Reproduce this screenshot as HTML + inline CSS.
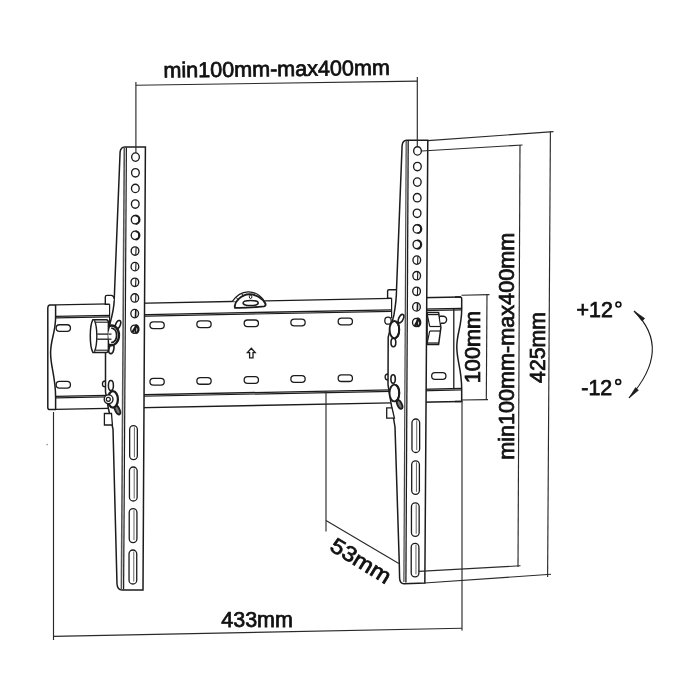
<!DOCTYPE html>
<html><head><meta charset="utf-8"><style>
html,body{margin:0;padding:0;background:#fff;width:700px;height:700px;overflow:hidden;font-family:"Liberation Sans",sans-serif;}
svg{display:block;will-change:transform}
</style></head><body>
<svg width="700" height="700" viewBox="0 0 700 700">
<rect width="700" height="700" fill="#fff"/>
<line x1="135.9" y1="85.3" x2="417.3" y2="81.1" stroke="#2a2a2a" stroke-width="1.15"/>
<line x1="53.5" y1="636.4" x2="462.0" y2="628.3" stroke="#2a2a2a" stroke-width="1.15"/>
<line x1="53.5" y1="412.0" x2="53.5" y2="640.0" stroke="#2a2a2a" stroke-width="1.15"/>
<line x1="462.0" y1="401.0" x2="462.0" y2="630.5" stroke="#2a2a2a" stroke-width="1.15"/>
<line x1="428.0" y1="140.6" x2="553.5" y2="131.6" stroke="#2a2a2a" stroke-width="1.15"/>
<line x1="550.4" y1="131.5" x2="547.6" y2="577.0" stroke="#2a2a2a" stroke-width="1.15"/>
<line x1="424.5" y1="583.0" x2="551.0" y2="574.3" stroke="#2a2a2a" stroke-width="1.15"/>
<line x1="520.0" y1="145.0" x2="518.0" y2="567.0" stroke="#2a2a2a" stroke-width="1.15"/>
<line x1="461.5" y1="295.3" x2="489.5" y2="294.6" stroke="#2a2a2a" stroke-width="1.15"/>
<line x1="487.0" y1="294.6" x2="486.3" y2="400.0" stroke="#2a2a2a" stroke-width="1.15"/>
<line x1="461.5" y1="400.0" x2="488.0" y2="399.6" stroke="#2a2a2a" stroke-width="1.15"/>
<line x1="326.0" y1="520.5" x2="398.8" y2="563.6" stroke="#2a2a2a" stroke-width="1.15"/>
<polygon points="56.0,304.9 461.0,297.0 461.0,401.5 56.0,409.4" fill="#fff" stroke="none"/>
<line x1="55.8" y1="304.9" x2="109.6" y2="303.9" stroke="#1c1c1c" stroke-width="1.4"/>
<line x1="135.0" y1="303.4" x2="391.6" y2="298.4" stroke="#1c1c1c" stroke-width="1.4"/>
<line x1="420.0" y1="297.8" x2="461.0" y2="297.0" stroke="#1c1c1c" stroke-width="1.4"/>
<line x1="55.8" y1="316.3" x2="109.6" y2="315.3" stroke="#1c1c1c" stroke-width="1.3"/>
<line x1="135.0" y1="314.8" x2="391.6" y2="309.8" stroke="#1c1c1c" stroke-width="1.3"/>
<line x1="420.0" y1="309.2" x2="461.0" y2="308.4" stroke="#1c1c1c" stroke-width="1.3"/>
<line x1="55.8" y1="317.8" x2="109.6" y2="316.8" stroke="#1c1c1c" stroke-width="1.2"/>
<line x1="135.0" y1="316.3" x2="391.6" y2="311.3" stroke="#1c1c1c" stroke-width="1.2"/>
<line x1="420.0" y1="310.7" x2="461.0" y2="309.9" stroke="#1c1c1c" stroke-width="1.2"/>
<line x1="55.8" y1="396.4" x2="391.6" y2="389.9" stroke="#1c1c1c" stroke-width="1.3"/>
<line x1="420.0" y1="389.3" x2="461.0" y2="388.5" stroke="#1c1c1c" stroke-width="1.3"/>
<line x1="55.8" y1="397.9" x2="391.6" y2="391.4" stroke="#1c1c1c" stroke-width="1.2"/>
<line x1="420.0" y1="390.8" x2="461.0" y2="390.0" stroke="#1c1c1c" stroke-width="1.2"/>
<line x1="55.8" y1="409.4" x2="391.6" y2="402.9" stroke="#1c1c1c" stroke-width="1.4"/>
<line x1="420.0" y1="402.3" x2="461.0" y2="401.5" stroke="#1c1c1c" stroke-width="1.4"/>
<path d="M56,304.9 L49.5,305.0 Q47.8,305.6 47.8,308.1 L47.8,407.6 Q47.8,409.6 50,409.5 L56,409.4" fill="#fff" stroke="#1c1c1c" stroke-width="1.5" />
<path d="M55.6,304.9 L55.6,316.9 C55.6,333 50.6,339 50.6,353 C50.6,367 55.6,377 55.6,397.0 L55.6,409.4" fill="none" stroke="#1c1c1c" stroke-width="1.5" />
<path d="M455,297.1 L460,297.0 Q461.7,297.0 461.7,299.0 L461.7,309.0 C461.7,327 456.8,333 456.8,347 C456.8,361 461.7,369 461.7,389.1 L461.7,401.5 L455,401.6" fill="none" stroke="#1c1c1c" stroke-width="1.5" />
<line x1="453.8" y1="309.1" x2="453.8" y2="389.2" stroke="#1c1c1c" stroke-width="1.3"/>
<line x1="326.0" y1="391.3" x2="326.0" y2="531.5" stroke="#2a2a2a" stroke-width="1.15"/>
<rect x="149.95" y="321.85" width="14.30" height="6.70" rx="3.35" ry="3.35" fill="#fff" stroke="#1c1c1c" stroke-width="1.3" transform="rotate(0 157.10 325.20)"/>
<rect x="149.95" y="378.45" width="14.30" height="6.70" rx="3.35" ry="3.35" fill="#fff" stroke="#1c1c1c" stroke-width="1.3" transform="rotate(0 157.10 381.80)"/>
<rect x="196.85" y="320.93" width="14.30" height="6.70" rx="3.35" ry="3.35" fill="#fff" stroke="#1c1c1c" stroke-width="1.3" transform="rotate(0 204.00 324.28)"/>
<rect x="196.85" y="377.53" width="14.30" height="6.70" rx="3.35" ry="3.35" fill="#fff" stroke="#1c1c1c" stroke-width="1.3" transform="rotate(0 204.00 380.88)"/>
<rect x="244.15" y="320.01" width="14.30" height="6.70" rx="3.35" ry="3.35" fill="#fff" stroke="#1c1c1c" stroke-width="1.3" transform="rotate(0 251.30 323.36)"/>
<rect x="244.15" y="376.61" width="14.30" height="6.70" rx="3.35" ry="3.35" fill="#fff" stroke="#1c1c1c" stroke-width="1.3" transform="rotate(0 251.30 379.96)"/>
<rect x="290.85" y="319.10" width="14.30" height="6.70" rx="3.35" ry="3.35" fill="#fff" stroke="#1c1c1c" stroke-width="1.3" transform="rotate(0 298.00 322.45)"/>
<rect x="290.85" y="375.70" width="14.30" height="6.70" rx="3.35" ry="3.35" fill="#fff" stroke="#1c1c1c" stroke-width="1.3" transform="rotate(0 298.00 379.05)"/>
<rect x="338.15" y="318.18" width="14.30" height="6.70" rx="3.35" ry="3.35" fill="#fff" stroke="#1c1c1c" stroke-width="1.3" transform="rotate(0 345.30 321.53)"/>
<rect x="338.15" y="374.78" width="14.30" height="6.70" rx="3.35" ry="3.35" fill="#fff" stroke="#1c1c1c" stroke-width="1.3" transform="rotate(0 345.30 378.13)"/>
<rect x="56.15" y="324.75" width="14.30" height="6.70" rx="3.35" ry="3.35" fill="#fff" stroke="#1c1c1c" stroke-width="1.3" transform="rotate(0 63.30 328.10)"/>
<rect x="56.15" y="381.35" width="14.30" height="6.70" rx="3.35" ry="3.35" fill="#fff" stroke="#1c1c1c" stroke-width="1.3" transform="rotate(0 63.30 384.70)"/>
<rect x="431.65" y="372.65" width="14.30" height="6.70" rx="3.35" ry="3.35" fill="#fff" stroke="#1c1c1c" stroke-width="1.3" transform="rotate(0 438.80 376.00)"/>
<path d="M251.3,348.2 L255.2,352.6 L253.0,352.6 L253.0,357.8 L249.6,357.8 L249.6,352.6 L247.4,352.6 Z" fill="#fff" stroke="#1c1c1c" stroke-width="1.3" />
<path d="M232.4,301.3 C236,296 242,292 248,291.8 C256,291.6 263,297 265.9,304.5" fill="#fff" stroke="#1c1c1c" stroke-width="1.2" />
<path d="M235,307.8 C234.3,305 235.5,302 238,299.6 C241.5,296 245.5,294.3 249.5,294.3 C256,294.3 262.5,298.5 265.3,303.5 C265.8,305 265.5,306.2 264,306.4 C255,307.3 244,308.2 235,307.8 Z" fill="#fff" stroke="#1c1c1c" stroke-width="1.9" />
<path d="M236.3,297.4 L238.4,300.3 M241.8,293.6 L243.4,296.4" fill="none" stroke="#1c1c1c" stroke-width="1.0" />
<ellipse cx="250.6" cy="303" rx="7.6" ry="2.6" fill="#fff" stroke="#1c1c1c" stroke-width="1.5"/>
<ellipse cx="250.6" cy="296.8" rx="1.3" ry="1.7" fill="none" stroke="#1c1c1c" stroke-width="1"/>
<path d="M120.1,151.8 Q120.8,147 124.7,146.9 L145.4,146.9 L143.0,590 L122,590 Q117.5,590 117,584 L113,429 L108.4,408.5 L105.5,392 L105.5,352 L109.3,326 C111.5,318 114,310 114.2,300 L120.1,151.8 Z" fill="#fff" stroke="#1c1c1c" stroke-width="1.5" />
<line x1="124.3" y1="147.5" x2="121.4" y2="589.5" stroke="#555" stroke-width="1.6"/>
<line x1="126.4" y1="147.5" x2="123.6" y2="589.5" stroke="#1c1c1c" stroke-width="1.2"/>
<path d="M402.1,145.4 Q402.8,140.5 406.5,140.3 L427.8,140.3 L424.85,583 L404,583.8 Q399.8,583.5 399.6,578 L399.3,564 L395,427 L391.2,404 L388,384.7 L388.2,337 L393.9,315 C395.5,306 396.5,300 396.5,290 L402.1,145.4 Z" fill="#fff" stroke="#1c1c1c" stroke-width="1.5" />
<line x1="408.2" y1="140.8" x2="405.9" y2="582.5" stroke="#1c1c1c" stroke-width="1.3"/>
<line x1="406.2" y1="140.8" x2="403.9" y2="582.0" stroke="#444" stroke-width="1.2"/>
<ellipse cx="135.50" cy="157.10" rx="3.85" ry="4.2" fill="#fff" stroke="#1c1c1c" stroke-width="1.35"/>
<ellipse cx="135.42" cy="172.75" rx="3.85" ry="4.2" fill="#fff" stroke="#1c1c1c" stroke-width="1.35"/>
<ellipse cx="135.34" cy="188.40" rx="3.85" ry="4.2" fill="#fff" stroke="#1c1c1c" stroke-width="1.35"/>
<ellipse cx="135.26" cy="204.05" rx="3.85" ry="4.2" fill="#fff" stroke="#1c1c1c" stroke-width="1.35"/>
<ellipse cx="135.17" cy="219.70" rx="3.85" ry="4.2" fill="#fff" stroke="#1c1c1c" stroke-width="1.35"/>
<path d="M135.67,215.50 A3.85,4.2 0 0 1 135.67,223.90" fill="none" stroke="#1c1c1c" stroke-width="2.0" />
<ellipse cx="135.09" cy="235.35" rx="3.85" ry="4.2" fill="#fff" stroke="#1c1c1c" stroke-width="1.35"/>
<path d="M135.59,231.15 A3.85,4.2 0 0 1 135.59,239.55" fill="none" stroke="#1c1c1c" stroke-width="2.0" />
<ellipse cx="135.01" cy="251.00" rx="3.85" ry="4.2" fill="#fff" stroke="#1c1c1c" stroke-width="1.35"/>
<line x1="136.1" y1="247.2" x2="135.8" y2="254.8" stroke="#1c1c1c" stroke-width="1.1"/>
<ellipse cx="134.93" cy="266.65" rx="3.85" ry="4.2" fill="#fff" stroke="#1c1c1c" stroke-width="1.35"/>
<line x1="136.0" y1="262.8" x2="135.7" y2="270.4" stroke="#1c1c1c" stroke-width="1.1"/>
<ellipse cx="134.85" cy="282.30" rx="3.85" ry="4.2" fill="#fff" stroke="#1c1c1c" stroke-width="1.35"/>
<line x1="135.9" y1="278.5" x2="135.6" y2="286.1" stroke="#1c1c1c" stroke-width="1.1"/>
<ellipse cx="134.77" cy="297.95" rx="3.85" ry="4.2" fill="#fff" stroke="#1c1c1c" stroke-width="1.35"/>
<line x1="135.9" y1="294.1" x2="135.6" y2="301.8" stroke="#1c1c1c" stroke-width="1.1"/>
<ellipse cx="134.69" cy="313.60" rx="3.85" ry="4.2" fill="#fff" stroke="#1c1c1c" stroke-width="1.35"/>
<line x1="135.8" y1="309.8" x2="135.5" y2="317.4" stroke="#1c1c1c" stroke-width="1.6"/>
<ellipse cx="134.60" cy="329.25" rx="3.85" ry="4.2" fill="#fff" stroke="#1c1c1c" stroke-width="1.35"/>
<line x1="135.7" y1="325.4" x2="135.4" y2="333.1" stroke="#1c1c1c" stroke-width="1.6"/>
<path d="M132.40,332.45 L136.60,325.65" fill="none" stroke="#1c1c1c" stroke-width="2.4" />
<path d="M135.40,325.15 A3.85,4.2 0 0 1 136.10,333.15" fill="none" stroke="#1c1c1c" stroke-width="2.2" />
<ellipse cx="417.50" cy="150.90" rx="3.85" ry="4.2" fill="#fff" stroke="#1c1c1c" stroke-width="1.35"/>
<ellipse cx="417.40" cy="166.50" rx="3.85" ry="4.2" fill="#fff" stroke="#1c1c1c" stroke-width="1.35"/>
<ellipse cx="417.30" cy="182.10" rx="3.85" ry="4.2" fill="#fff" stroke="#1c1c1c" stroke-width="1.35"/>
<ellipse cx="417.20" cy="197.70" rx="3.85" ry="4.2" fill="#fff" stroke="#1c1c1c" stroke-width="1.35"/>
<ellipse cx="417.09" cy="213.30" rx="3.85" ry="4.2" fill="#fff" stroke="#1c1c1c" stroke-width="1.35"/>
<ellipse cx="416.99" cy="228.90" rx="3.85" ry="4.2" fill="#fff" stroke="#1c1c1c" stroke-width="1.35"/>
<path d="M417.49,224.70 A3.85,4.2 0 0 1 417.49,233.10" fill="none" stroke="#1c1c1c" stroke-width="2.0" />
<ellipse cx="416.89" cy="244.50" rx="3.85" ry="4.2" fill="#fff" stroke="#1c1c1c" stroke-width="1.35"/>
<path d="M417.39,240.30 A3.85,4.2 0 0 1 417.39,248.70" fill="none" stroke="#1c1c1c" stroke-width="2.0" />
<ellipse cx="416.79" cy="260.10" rx="3.85" ry="4.2" fill="#fff" stroke="#1c1c1c" stroke-width="1.35"/>
<line x1="417.9" y1="256.3" x2="417.6" y2="263.9" stroke="#1c1c1c" stroke-width="1.1"/>
<ellipse cx="416.69" cy="275.70" rx="3.85" ry="4.2" fill="#fff" stroke="#1c1c1c" stroke-width="1.35"/>
<line x1="417.8" y1="271.9" x2="417.5" y2="279.5" stroke="#1c1c1c" stroke-width="1.1"/>
<ellipse cx="416.59" cy="291.30" rx="3.85" ry="4.2" fill="#fff" stroke="#1c1c1c" stroke-width="1.35"/>
<line x1="417.7" y1="287.5" x2="417.4" y2="295.1" stroke="#1c1c1c" stroke-width="1.1"/>
<ellipse cx="416.49" cy="306.90" rx="3.85" ry="4.2" fill="#fff" stroke="#1c1c1c" stroke-width="1.35"/>
<line x1="417.6" y1="303.1" x2="417.3" y2="310.7" stroke="#1c1c1c" stroke-width="1.6"/>
<ellipse cx="416.38" cy="322.50" rx="3.85" ry="4.2" fill="#fff" stroke="#1c1c1c" stroke-width="1.35"/>
<line x1="417.5" y1="318.7" x2="417.2" y2="326.3" stroke="#1c1c1c" stroke-width="1.6"/>
<path d="M414.88,326.10 L418.58,319.10" fill="none" stroke="#1c1c1c" stroke-width="2.4" />
<path d="M417.18,318.40 A3.85,4.2 0 0 1 417.88,326.40" fill="none" stroke="#1c1c1c" stroke-width="2.2" />
<rect x="129.65" y="425.70" width="7.70" height="34.00" rx="3.85" ry="3.85" fill="#fff" stroke="#1c1c1c" stroke-width="1.3"/>
<line x1="134.40" y1="427.20" x2="134.40" y2="457.20" stroke="#666" stroke-width="1.0"/>
<rect x="129.44" y="467.00" width="7.70" height="34.00" rx="3.85" ry="3.85" fill="#fff" stroke="#1c1c1c" stroke-width="1.3"/>
<line x1="134.19" y1="468.50" x2="134.19" y2="498.50" stroke="#666" stroke-width="1.0"/>
<rect x="129.23" y="508.60" width="7.70" height="34.00" rx="3.85" ry="3.85" fill="#fff" stroke="#1c1c1c" stroke-width="1.3"/>
<line x1="133.98" y1="510.10" x2="133.98" y2="540.10" stroke="#666" stroke-width="1.0"/>
<rect x="129.03" y="550.00" width="7.70" height="34.00" rx="3.85" ry="3.85" fill="#fff" stroke="#1c1c1c" stroke-width="1.3"/>
<line x1="133.78" y1="551.50" x2="133.78" y2="581.50" stroke="#666" stroke-width="1.0"/>
<rect x="411.96" y="419.00" width="7.70" height="33.50" rx="3.85" ry="3.85" fill="#fff" stroke="#1c1c1c" stroke-width="1.3"/>
<line x1="416.71" y1="420.50" x2="416.71" y2="450.00" stroke="#666" stroke-width="1.0"/>
<rect x="411.70" y="460.90" width="7.70" height="33.50" rx="3.85" ry="3.85" fill="#fff" stroke="#1c1c1c" stroke-width="1.3"/>
<line x1="416.45" y1="462.40" x2="416.45" y2="491.90" stroke="#666" stroke-width="1.0"/>
<rect x="411.45" y="502.80" width="7.70" height="33.50" rx="3.85" ry="3.85" fill="#fff" stroke="#1c1c1c" stroke-width="1.3"/>
<line x1="416.20" y1="504.30" x2="416.20" y2="533.80" stroke="#666" stroke-width="1.0"/>
<rect x="411.21" y="543.30" width="7.70" height="33.50" rx="3.85" ry="3.85" fill="#fff" stroke="#1c1c1c" stroke-width="1.3"/>
<line x1="415.96" y1="544.80" x2="415.96" y2="574.30" stroke="#666" stroke-width="1.0"/>
<line x1="135.9" y1="81.9" x2="135.9" y2="152.9" stroke="#2a2a2a" stroke-width="1.15"/>
<line x1="417.3" y1="77.1" x2="417.3" y2="146.8" stroke="#2a2a2a" stroke-width="1.15"/>
<line x1="421.6" y1="151.0" x2="522.5" y2="145.0" stroke="#2a2a2a" stroke-width="1.15"/>
<line x1="418.8" y1="571.4" x2="520.5" y2="565.8" stroke="#2a2a2a" stroke-width="1.15"/>
<path d="M109.6,304.3 L105.3,304.3 L105.3,297 Q105.3,295.4 107,295.4 L111.5,295.4 Q114,296 114.3,299.5" fill="#fff" stroke="#1c1c1c" stroke-width="1.4" />
<line x1="109.6" y1="304.3" x2="109.6" y2="325.0" stroke="#1c1c1c" stroke-width="1.2"/>
<line x1="391.6" y1="298.0" x2="391.6" y2="318.0" stroke="#1c1c1c" stroke-width="1.2"/>
<path d="M391.6,298.3 L387.6,298.3 L387.6,291 Q387.6,289.7 389,289.7 L396.2,289.7" fill="#fff" stroke="#1c1c1c" stroke-width="1.4" />
<path d="M92.9,319.7 L106.3,319.7 Q108.4,319.9 108.4,322.3 L108.4,350 Q108.4,352.4 106.3,352.4 L92.9,352.4 C89.4,346 89.4,326 92.9,319.7 Z" fill="#fff" stroke="#1c1c1c" stroke-width="1.5" />
<path d="M94.5,320.3 C97.6,328 97.6,344 94.5,351.8" fill="none" stroke="#1c1c1c" stroke-width="1.4" />
<line x1="95.5" y1="322.2" x2="108.4" y2="322.2" stroke="#1c1c1c" stroke-width="1.1"/>
<line x1="95.5" y1="350.2" x2="108.4" y2="350.2" stroke="#1c1c1c" stroke-width="1.1"/>
<line x1="97.3" y1="334.1" x2="109.5" y2="334.1" stroke="#1c1c1c" stroke-width="1.3"/>
<line x1="97.3" y1="339.2" x2="109.5" y2="339.2" stroke="#1c1c1c" stroke-width="1.3"/>
<ellipse cx="118.0" cy="324.6" rx="2.3" ry="4.3" transform="rotate(22 118.0 324.6)" fill="#fff" stroke="#1c1c1c" stroke-width="1.6"/>
<ellipse cx="111.4" cy="349.0" rx="2.4" ry="4.7" transform="rotate(12 111.4 349.0)" fill="#fff" stroke="#1c1c1c" stroke-width="1.6"/>
<ellipse cx="113.3" cy="335.2" rx="5.0" ry="9.6" fill="#fff" stroke="none"/>
<path d="M108.8,326.2 C114.5,323.6 119.0,329.0 119.0,335.2 C119.0,341.6 114.5,347.0 108.8,344.6" fill="none" stroke="#1c1c1c" stroke-width="2.3" />
<path d="M111.2,328.0 C115.2,328.6 116.6,332.0 116.6,335.2 C116.6,338.6 115.2,342.0 111.2,342.6" fill="none" stroke="#1c1c1c" stroke-width="1.7" />
<line x1="108.6" y1="334.1" x2="111.5" y2="334.1" stroke="#1c1c1c" stroke-width="1.2"/>
<line x1="108.6" y1="339.2" x2="111.5" y2="339.2" stroke="#1c1c1c" stroke-width="1.2"/>
<ellipse cx="110.9" cy="385.5" rx="2.5" ry="5.0" fill="#fff" stroke="#1c1c1c" stroke-width="1.5"/>
<ellipse cx="117.4" cy="410" rx="2.2" ry="4.8" transform="rotate(-25 117.4 410)" fill="#777" stroke="#1c1c1c" stroke-width="1.8"/>
<ellipse cx="112.9" cy="399.4" rx="5.0" ry="8.2" fill="#fff" stroke="#1c1c1c" stroke-width="2.3"/>
<circle cx="108.6" cy="399.3" r="4.4" fill="#fff" stroke="#1c1c1c" stroke-width="1.4"/>
<circle cx="108.3" cy="399.3" r="2.0" fill="#fff" stroke="#1c1c1c" stroke-width="1.2"/>
<path d="M105.3,381 A2.9,2.9 0 0 0 105.3,386.8" fill="none" stroke="#1c1c1c" stroke-width="1.3" />
<path d="M104.4,413.5 L111.5,413.5 L112.4,425 L104.4,425 Z" fill="#fff" stroke="#1c1c1c" stroke-width="1.3" />
<path d="M427.1,312.4 L438.6,312.4 L440.9,327.5 L438.6,344.5 L427.1,344.5 Z" fill="#fff" stroke="#1c1c1c" stroke-width="1.5" />
<line x1="427.5" y1="314.6" x2="438.9" y2="314.6" stroke="#1c1c1c" stroke-width="1.2"/>
<line x1="427.5" y1="343.0" x2="438.9" y2="343.0" stroke="#1c1c1c" stroke-width="1.2"/>
<line x1="429.7" y1="326.5" x2="440.8" y2="326.5" stroke="#1c1c1c" stroke-width="1.2"/>
<line x1="429.7" y1="331.0" x2="440.5" y2="331.0" stroke="#1c1c1c" stroke-width="1.2"/>
<line x1="427.1" y1="313.5" x2="429.7" y2="326.5" stroke="#1c1c1c" stroke-width="1.2"/>
<line x1="429.7" y1="331.0" x2="427.1" y2="343.5" stroke="#1c1c1c" stroke-width="1.2"/>
<path d="M440.0,316.3 L443.1,316.3 A3.5,3.5 0 0 1 443.1,323.3 L440.6,323.3" fill="#fff" stroke="#1c1c1c" stroke-width="1.4" />
<ellipse cx="401" cy="318.6" rx="2.2" ry="4.5" transform="rotate(25 401 318.6)" fill="#fff" stroke="#1c1c1c" stroke-width="1.6"/>
<ellipse cx="393.4" cy="342.5" rx="2.4" ry="4.2" fill="#fff" stroke="#1c1c1c" stroke-width="1.6"/>
<ellipse cx="388" cy="320.7" rx="3.2" ry="3.5" fill="#fff" stroke="#1c1c1c" stroke-width="1.3"/>
<ellipse cx="394.4" cy="329.6" rx="4.8" ry="8.6" fill="#fff" stroke="#1c1c1c" stroke-width="1.9"/>
<path d="M395.8,321.6 C400.3,323.5 400.3,335.8 395.8,337.6" fill="none" stroke="#1c1c1c" stroke-width="2.0" />
<path d="M388.1,374 A3,3 0 0 0 388.1,380" fill="none" stroke="#1c1c1c" stroke-width="1.3" />
<ellipse cx="393.1" cy="379" rx="2.2" ry="4.3" fill="#fff" stroke="#1c1c1c" stroke-width="1.6"/>
<ellipse cx="399.6" cy="404.5" rx="2.2" ry="4.6" transform="rotate(-25 399.6 404.5)" fill="#777" stroke="#1c1c1c" stroke-width="1.8"/>
<ellipse cx="394.4" cy="393" rx="4.9" ry="8.4" fill="#fff" stroke="#1c1c1c" stroke-width="1.9"/>
<path d="M395.8,385 C400.3,387 400.3,399.2 395.8,401" fill="none" stroke="#1c1c1c" stroke-width="2.0" />
<path d="M386.7,407.8 L392,407.8 L394.4,418.1 L386.7,418.1 Z" fill="#fff" stroke="#1c1c1c" stroke-width="1.3" />
<circle cx="47.1" cy="444.6" r="0.8" fill="#888"/>
<path d="M634,311 Q673,349 629,398" fill="none" stroke="#1c1c1c" stroke-width="1.1" />
<path d="M634,311 L644.6,318.4 L642.2,321.0 Z" fill="#1c1c1c" stroke="#1c1c1c" stroke-width="0.7" />
<path d="M629,398 L635.6,387.6 L638.4,390.2 Z" fill="#1c1c1c" stroke="#1c1c1c" stroke-width="0.7" />
<text x="163.5" y="77.6" font-family="Liberation Sans, sans-serif" font-size="21.5" fill="#111" stroke="#111" stroke-width="0.75" text-anchor="start" transform="rotate(-0.7 163.5 77.6)" textLength="226.5" lengthAdjust="spacingAndGlyphs">min100mm-max400mm</text>
<text x="221.3" y="626.5" font-family="Liberation Sans, sans-serif" font-size="21.5" fill="#111" stroke="#111" stroke-width="0.75" text-anchor="start"  textLength="71.6" lengthAdjust="spacingAndGlyphs">433mm</text>
<text x="576.6" y="316.6" font-family="Liberation Sans, sans-serif" font-size="21.5" fill="#111" stroke="#111" stroke-width="0.75" text-anchor="start"  textLength="36.2" lengthAdjust="spacingAndGlyphs">+12</text>
<circle cx="618.4" cy="304.5" r="2.45" fill="none" stroke="#111" stroke-width="1.6"/>
<text x="581.3" y="395.2" font-family="Liberation Sans, sans-serif" font-size="21.5" fill="#111" stroke="#111" stroke-width="0.75" text-anchor="start"  textLength="31" lengthAdjust="spacingAndGlyphs">-12</text>
<circle cx="618.2" cy="381.9" r="2.45" fill="none" stroke="#111" stroke-width="1.6"/>
<g transform="translate(480.0 383.3) rotate(-90)"><text x="0" y="0" font-family="Liberation Sans, sans-serif" font-size="21.5" fill="#111" stroke="#111" stroke-width="0.75" textLength="72.5" lengthAdjust="spacingAndGlyphs">100mm</text></g>
<g transform="translate(514.3 459.8) rotate(-90)"><text x="0" y="0" font-family="Liberation Sans, sans-serif" font-size="21.5" fill="#111" stroke="#111" stroke-width="0.75" textLength="227" lengthAdjust="spacingAndGlyphs">min100mm-max400mm</text></g>
<g transform="translate(545 382.9) rotate(-90)"><text x="0" y="0" font-family="Liberation Sans, sans-serif" font-size="21.5" fill="#111" stroke="#111" stroke-width="0.75" textLength="70.8" lengthAdjust="spacingAndGlyphs">425mm</text></g>
<g transform="translate(328.5 549.5) rotate(31.5)"><text x="0" y="0" font-family="Liberation Sans, sans-serif" font-size="21.5" fill="#111" stroke="#111" stroke-width="0.75" textLength="67" lengthAdjust="spacingAndGlyphs">53mm</text></g>
</svg>
</body></html>
